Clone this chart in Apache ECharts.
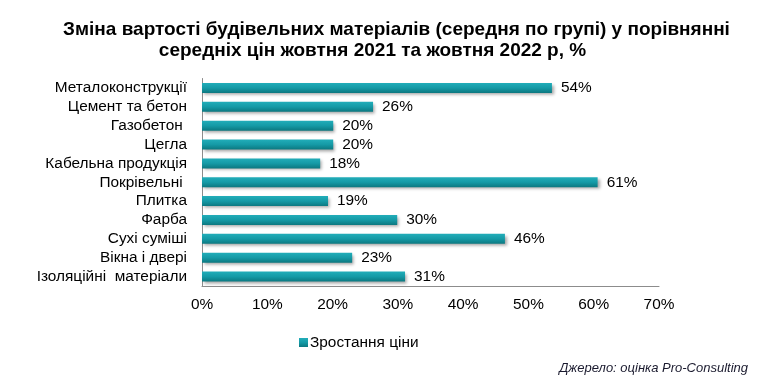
<!DOCTYPE html>
<html><head><meta charset="utf-8">
<script src="https://cdn.jsdelivr.net/npm/echarts@6/dist/echarts.min.js"></script>
<style>html,body{margin:0;padding:0;background:#fff}#c{width:765px;height:387px}</style>
</head><body><div id="c"></div>
<script>
const categories = ["Металоконструкції","Цемент та бетон","Газобетон ","Цегла","Кабельна продукція","Покрівельні ","Плитка","Фарба","Сухі суміші","Вікна і двері","Ізоляційні  матеріали"];
const values = [53.6, 26.2, 20.1, 20.1, 18.1, 60.6, 19.3, 29.9, 46.4, 23.0, 31.1];
const xTicks = [0, 10, 20, 30, 40, 50, 60, 70];
const seriesName = "Зростання ціни";
const titleLines = ["Зміна вартості будівельних матеріалів (середня по групі) у порівнянні","середніх цін жовтня 2021 та жовтня 2022 р, %"];
const sourceText = "Джерело: оцінка Pro-Consulting";

const font = "Liberation Sans, Arial, sans-serif";
const fs = 15.4;
const chart = echarts.init(document.getElementById('c'));
chart.setOption({
  animation: false,
  graphic: [
    {type: 'text', x: 396.5, y: 29.5,
     style: {text: titleLines[0], font: 'bold 19px ' + font, fill: '#000', align: 'center', verticalAlign: 'middle'}},
    {type: 'text', x: 372.5, y: 51,
     style: {text: titleLines[1], font: 'bold 19px ' + font, fill: '#000', align: 'center', verticalAlign: 'middle'}},
    {type: 'text', x: 748, y: 368,
     style: {text: sourceText, font: 'italic 13px ' + font, fill: '#1a1a2e', align: 'right', verticalAlign: 'middle'}}
  ],
  legend: {
    data: [seriesName], left: 294, top: 330, itemWidth: 9, itemHeight: 9, itemGap: 4,
    icon: 'rect',
    textStyle: {fontFamily: font, fontSize: fs, color: '#000', padding: [0,0,0,-3]}
  },
  grid: {left: 202, right: 106, top: 78.5, bottom: 101, containLabel: false},
  xAxis: {
    type: 'value', min: 0, max: 70, interval: 10,
    axisLine: {show: true, lineStyle: {color: '#8c8c8c'}},
    axisTick: {show: false},
    splitLine: {show: false},
    axisLabel: {fontFamily: font, fontSize: fs, color: '#000', margin: 11,
      formatter: v => xTicks.includes(v) ? v + '%' : ''}
  },
  yAxis: {
    type: 'category', data: categories, inverse: true,
    axisLine: {show: true, lineStyle: {color: '#8c8c8c'}},
    axisTick: {show: false},
    axisLabel: {fontFamily: font, fontSize: fs, color: '#000', margin: 15, interval: 0}
  },
  series: [{
    name: seriesName, type: 'bar', data: values, barWidth: 10,
    itemStyle: {
      color: new echarts.graphic.LinearGradient(0, 0, 0, 1, [
        {offset: 0, color: '#22adb9'}, {offset: 0.5, color: '#159aa6'}, {offset: 1, color: '#0c7880'}
      ]),
      shadowColor: 'rgba(0,0,0,0.35)', shadowBlur: 3, shadowOffsetX: 2, shadowOffsetY: 2
    },
    label: {show: true, position: 'right', distance: 9, fontFamily: font, fontSize: fs, color: '#000',
      formatter: p => Math.round(p.value) + '%'}
  }],
  color: ['#159aa6']
});
</script></body></html>
